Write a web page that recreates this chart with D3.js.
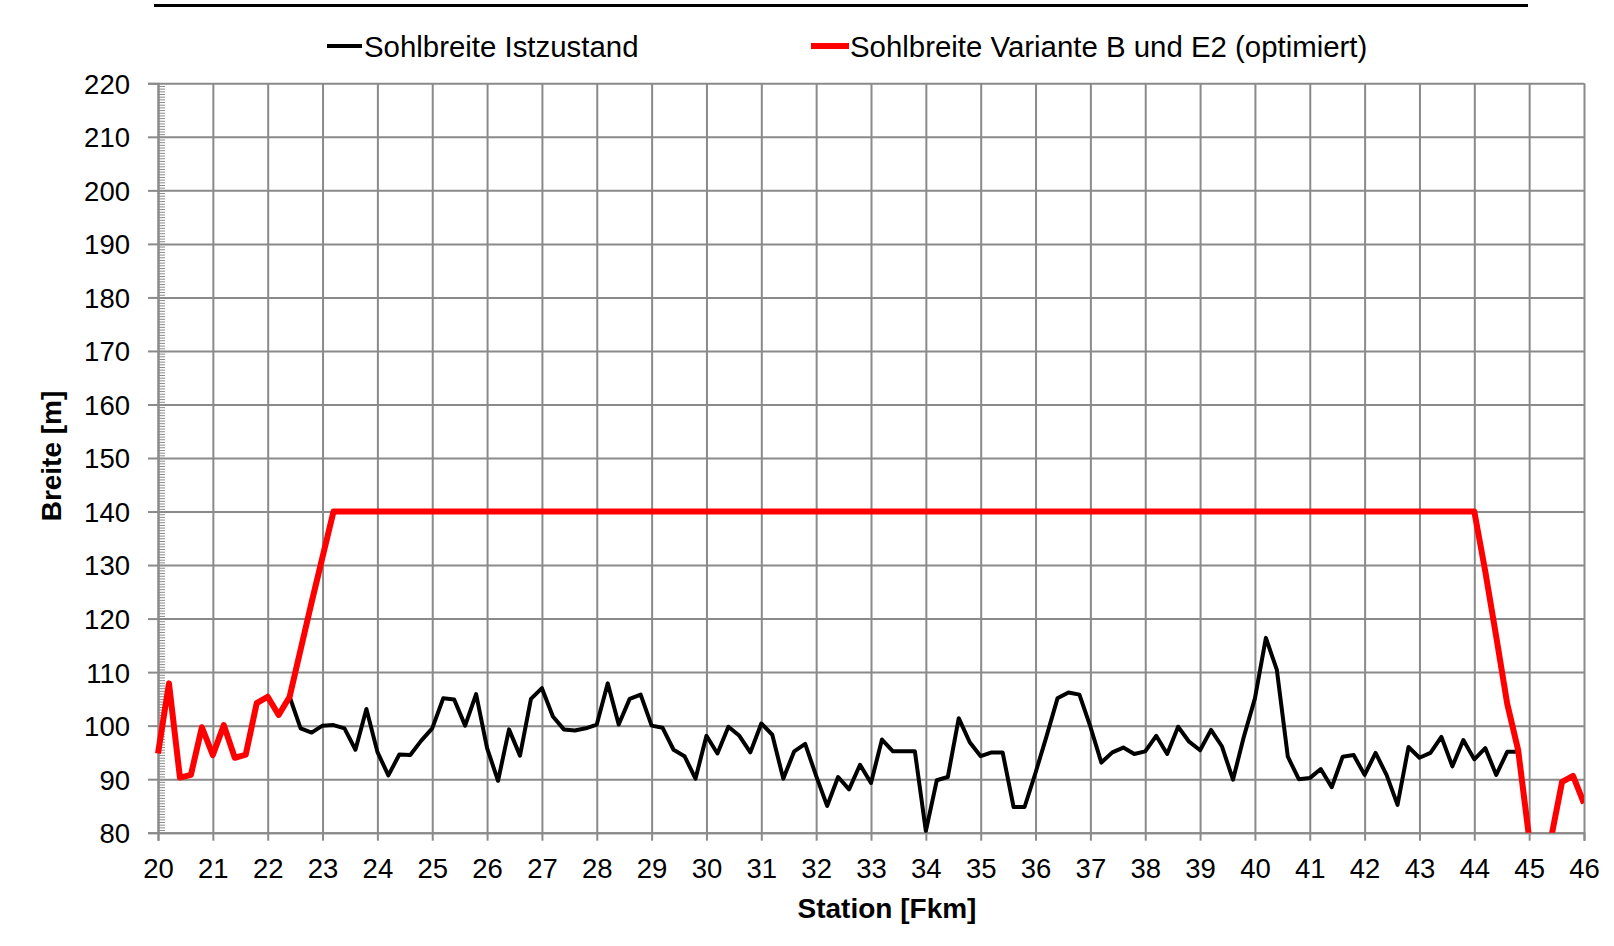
<!DOCTYPE html>
<html>
<head>
<meta charset="utf-8">
<script src="https://cdn.jsdelivr.net/npm/d3@7"></script>
<style>
  html, body { margin: 0; padding: 0; background: #fff; }
  svg { display: block; }
  text { font-family: "Liberation Sans", Arial, sans-serif; fill: #000; }
</style>
</head>
<body>
<svg id="chart" width="1614" height="946"></svg>
<script>
// ---- data ----
const xTicks = [20,21,22,23,24,25,26,27,28,29,30,31,32,33,34,35,36,37,38,39,40,41,42,43,44,45,46];
const yTicks = [80,90,100,110,120,130,140,150,160,170,180,190,200,210,220];

const seriesNames = ["Sohlbreite Istzustand", "Sohlbreite Variante B und E2 (optimiert)"];

// Istzustand: regular stations every 0.2 km starting at 22.4
const istStart = 22.4;
const istStep = 0.2;
const istValues = [
  105.4, 99.5, 98.7,
  100.0, 100.1, 99.5, 95.5, 103.1,
  95.1, 90.7, 94.6, 94.5, 97.2,
  99.5, 105.1, 104.9, 100.0, 105.9,
  95.8, 89.7, 99.3, 94.4, 105.0,
  107.0, 101.7, 99.3, 99.1, 99.5,
  100.2, 107.9, 100.2, 105.0, 105.8,
  100.0, 99.6, 95.5, 94.3, 90.1,
  98.1, 94.8, 99.8, 98.1, 95.0,
  100.4, 98.3, 90.1, 95.2, 96.6,
  90.6, 85.0, 90.4, 88.1, 92.7,
  89.3, 97.4, 95.2, 95.2, 95.2,
  80.3, 89.8, 90.4, 101.4, 96.9,
  94.3, 95.0, 95.0, 84.8, 84.8,
  91.2, 98.0, 105.1, 106.2, 105.8,
  99.8, 93.1, 95.0, 95.9, 94.7,
  95.2, 98.1, 94.7, 99.8, 97.0,
  95.4, 99.2, 96.1, 89.9, 98.0,
  105.1, 116.4, 110.4, 94.2, 90.0,
  90.2, 91.9, 88.5, 94.2, 94.5,
  90.8, 94.9, 90.8, 85.2, 96.0,
  94.0, 94.9, 97.9, 92.4, 97.3,
  93.7, 95.8, 90.8, 95.1, 95.1
];

// Variante B und E2 (optimiert)
const varStations = [20.0,20.2,20.4,20.6,20.8,21.0,21.2,21.4,21.6,21.8,22.0,22.2,22.4,22.6,22.8,23.0,23.2,
                     44.0,44.2,44.4,44.6,44.8,45.0,45.2,45.4,45.6,45.8,46.0];
const varValues   = [94.8,107.9,90.3,90.8,99.7,94.5,100.1,94.0,94.6,104.2,105.4,102.0,105.4,114.2,123.0,131.5,140.0,
                     140.0,128.8,116.6,104.1,95.4,79.0,70.0,79.0,89.5,90.6,85.5];

// ---- layout ----
const L = 158, R = 1584, T = 83.3, B = 832.7;
const gridColor = "#8a8a8a";

const svg = d3.select("#chart");
const x = d3.scaleLinear().domain([20, 46]).range([L, R]);
const y = d3.scaleLinear().domain([80, 220]).range([B, T]);

// top decorative rule
svg.append("line").attr("x1", 154).attr("x2", 1528).attr("y1", 5.5).attr("y2", 5.5)
  .attr("stroke", "#000").attr("stroke-width", 3);

// grid (vertical)
const gx = svg.append("g").attr("transform", `translate(0,${B})`)
  .call(d3.axisBottom(x).tickValues(xTicks).tickSize(-(B - T)).tickFormat(""));
gx.select(".domain").remove();
gx.selectAll("line").attr("stroke", gridColor).attr("stroke-width", 2);

// grid (horizontal)
const gy = svg.append("g").attr("transform", `translate(${L},0)`)
  .call(d3.axisLeft(y).tickValues(yTicks).tickSize(-(R - L)).tickFormat(""));
gy.select(".domain").remove();
gy.selectAll("line").attr("stroke", gridColor).attr("stroke-width", 2);

// y minor ticks (inside)
const yMinor = d3.range(80.5, 220, 0.5);
const gym = svg.append("g").attr("transform", `translate(${L},0)`)
  .call(d3.axisRight(y).tickValues(yMinor).tickSize(7).tickFormat(""));
gym.select(".domain").remove();
gym.selectAll("line").attr("stroke", gridColor).attr("stroke-width", 1);

// x axis with ticks and labels
const xa = svg.append("g").attr("transform", `translate(0,${B})`)
  .call(d3.axisBottom(x).tickValues(xTicks).tickSize(8).tickPadding(0).tickFormat(d3.format("d")));
xa.select(".domain").attr("stroke", gridColor).attr("stroke-width", 2);
xa.selectAll("line").attr("stroke", gridColor).attr("stroke-width", 2);
xa.selectAll("text").attr("font-size", 27.5).attr("dy", null).attr("y", 45.5)
  .style("font-family", "'Liberation Sans', Arial, sans-serif").attr("fill", "#000");

// y axis with ticks and labels
const ya = svg.append("g").attr("transform", `translate(${L},0)`)
  .call(d3.axisLeft(y).tickValues(yTicks).tickSize(10).tickPadding(0).tickFormat(d3.format("d")));
ya.select(".domain").attr("stroke", gridColor).attr("stroke-width", 2);
ya.selectAll("line").attr("stroke", gridColor).attr("stroke-width", 2);
ya.selectAll("text").attr("font-size", 27.5).attr("x", -28).attr("dy", "0.36em")
  .style("font-family", "'Liberation Sans', Arial, sans-serif").attr("fill", "#000");

// clip
svg.append("clipPath").attr("id", "plotclip").append("rect")
  .attr("x", L - 5).attr("y", T - 5).attr("width", R - L + 5).attr("height", B - T + 5);

const line = d3.line().x(d => x(d[0])).y(d => y(d[1])).curve(d3.curveLinear);

const istData = istValues.map((v, i) => [istStart + i * istStep, v]);
const varData = varStations.map((s, i) => [s, varValues[i]]);

const plot = svg.append("g").attr("clip-path", "url(#plotclip)");
plot.append("path").datum(istData).attr("d", line)
  .attr("fill", "none").attr("stroke", "#000").attr("stroke-width", 4)
  .attr("stroke-linejoin", "round");
plot.append("path").datum(varData).attr("d", line)
  .attr("fill", "none").attr("stroke", "#ff0000").attr("stroke-width", 6)
  .attr("stroke-linejoin", "round");

// axis titles
svg.append("text").attr("x", 887).attr("y", 918).attr("text-anchor", "middle")
  .attr("font-size", 28).attr("font-weight", "bold").text("Station [Fkm]");
svg.append("text").attr("transform", "translate(61,456) rotate(-90)").attr("text-anchor", "middle")
  .attr("font-size", 28).attr("font-weight", "bold").text("Breite [m]");

// legend
const legend = [
  { name: seriesNames[0], color: "#000", width: 4, x1: 327, x2: 362, tx: 364 },
  { name: seriesNames[1], color: "#ff0000", width: 6, x1: 811, x2: 849, tx: 850 }
];
legend.forEach(l => {
  svg.append("line").attr("x1", l.x1).attr("x2", l.x2).attr("y1", 46).attr("y2", 46)
    .attr("stroke", l.color).attr("stroke-width", l.width);
  svg.append("text").attr("x", l.tx).attr("y", 57).attr("font-size", 29.4).text(l.name);
});
</script>
</body>
</html>
